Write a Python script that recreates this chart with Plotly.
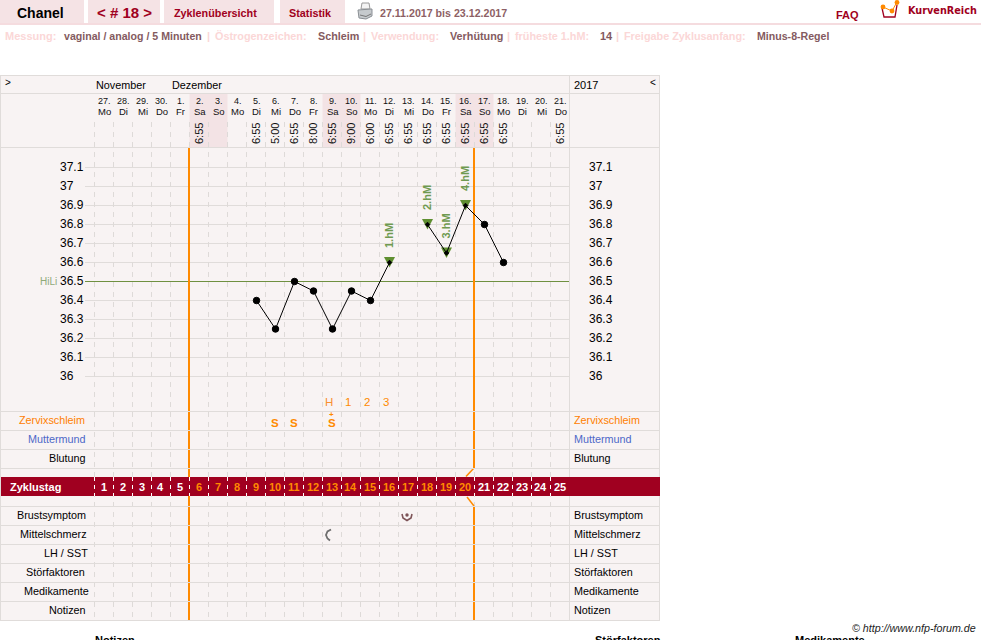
import plotly.graph_objects as go

# ---------- data ----------
cycle_days = list(range(1, 26))
date_labels = ["27.", "28.", "29.", "30.", "1.", "2.", "3.", "4.", "5.", "6.", "7.", "8.", "9.", "10.", "11.", "12.", "13.", "14.", "15.", "16.", "17.", "18.", "19.", "20.", "21."]
weekday_labels = ["Mo", "Di", "Mi", "Do", "Fr", "Sa", "So", "Mo", "Di", "Mi", "Do", "Fr", "Sa", "So", "Mo", "Di", "Mi", "Do", "Fr", "Sa", "So", "Mo", "Di", "Mi", "Do"]
time_labels = [None, None, None, None, None, "6:55", None, None, "6:55", "5:00", "6:55", "8:00", "6:55", "9:00", "6:00", "6:55", "6:55", "6:55", "6:55", "6:55", "6:55", "6:55", None, None, "6:55"]
temperatures = [None, None, None, None, None, None, None, None, 36.4, 36.25, 36.5, 36.45, 36.25, 36.45, 36.4, 36.6, None, 36.8, 36.65, 36.9, 36.8, 36.6, None, None, None]
high_days = [16, 18, 19, 20]
high_labels = ["1.hM", "2.hM", "3.hM", "4.hM"]
temp_ticks = [37.1, 37.0, 36.9, 36.8, 36.7, 36.6, 36.5, 36.4, 36.3, 36.2, 36.1, 36.0]
temp_tick_labels = ["37.1", "37", "36.9", "36.8", "36.7", "36.6", "36.5", "36.4", "36.3", "36.2", "36.1", "36"]
cover_line = 36.5
weekend_groups = [(6, 7), (13, 14), (20, 21)]
count_days = [13, 14, 15, 16]
count_labels = ["H", "1", "2", "3"]
mucus_days = [10, 11, 13]
mucus_labels = ["S", "S", "S"]
fertile_days = list(range(6, 21))
row_names = ["Zervixschleim", "Muttermund", "Blutung", "Brustsymptom", "Mittelschmerz", "LH / SST", "Störfaktoren", "Medikamente", "Notizen"]

# ---------- page geometry ----------
W, H = 981, 640
RED = "#a00020"
ORANGE = "#ff8a00"
PANEL = "#f8f3f3"
GRID = "#e0dcda"
DASH = "#dedad8"
F = "Liberation Sans"


def xp(p):
    return p / W


def yp(p):
    return 1 - p / H


def col_edge(k):
    return 94.5 + 19 * k


shapes = []
annotations = []


def rect(x0, y0, x1, y1, color):
    shapes.append(dict(type="rect", xref="paper", yref="paper", x0=xp(x0), x1=xp(x1), y0=yp(y0), y1=yp(y1),
                       fillcolor=color, line=dict(width=0), layer="below"))


def line(x0, y0, x1, y1, color, width=1, dash=None):
    l = dict(color=color, width=width)
    if dash:
        l["dash"] = dash
    shapes.append(dict(type="line", xref="paper", yref="paper", x0=xp(x0), x1=xp(x1), y0=yp(y0), y1=yp(y1),
                       line=l, layer="below"))


def path(points, color=None, fill=None, width=1, close=False):
    d = "M " + " L ".join(f"{xp(a):.5f},{yp(b):.5f}" for a, b in points) + (" Z" if close else "")
    shapes.append(dict(type="path", xref="paper", yref="paper", path=d,
                       line=dict(color=color or "rgba(0,0,0,0)", width=width if color else 0),
                       fillcolor=fill or "rgba(0,0,0,0)", layer="below"))


def dot(cx, cy, r, color):
    shapes.append(dict(type="circle", xref="paper", yref="paper", x0=xp(cx - r), x1=xp(cx + r), y0=yp(cy - r), y1=yp(cy + r),
                       fillcolor=color, line=dict(width=0), layer="below"))


def text(s, x, y, size=11, color="#000", bold=False, anchor="left", family=F, italic=False, angle=0):
    t = f"<b>{s}</b>" if bold else s
    if italic:
        t = f"<i>{t}</i>"
    annotations.append(dict(text=t, xref="paper", yref="paper", x=xp(x), y=yp(y), xanchor=anchor, yanchor="middle",
                            showarrow=False, borderpad=0, borderwidth=0, textangle=angle,
                            font=dict(family=family, size=size, color=color)))


def col_text(s, day, y, size=11, color="#000", bold=False, angle=0, family=F, xshift=0):
    t = f"<b>{s}</b>" if bold else s
    annotations.append(dict(text=t, xref="x", yref="paper", x=day, y=yp(y), xanchor="center", yanchor="middle",
                            showarrow=False, borderpad=0, borderwidth=0, textangle=angle, xshift=xshift,
                            font=dict(family=family, size=size, color=color)))


# ---------- top navigation ----------
rect(0, 0, 84, 23, "#f5e3e5")
rect(88, 0, 160, 23, "#f5e3e5")
rect(164, 0, 274, 23, "#f5e3e5")
rect(280, 0, 345, 23, "#f5e3e5")
rect(0, 23, 981, 25, "#f5dcdf")
text("Chanel", 40, 12.5, 14, "#000", True, "center")
text("&lt; # 18 &gt;", 125, 12.5, 15, RED, True, "center")
text("Zyklenübersicht", 215, 12.5, 10.8, RED, True, "center")
text("Statistik", 310.5, 12.5, 10.8, RED, True, "center")
text("27.11.2017 bis 23.12.2017", 380, 12.5, 10.65, "#8d5f65", True)
text("FAQ", 836, 14.5, 11, RED, True)
text("KurvenReich", 908, 10.5, 9.7, RED, True, family="DejaVu Sans")

# printer icon
path([(362, 3), (369, 3), (370, 9), (361, 9)], "#9a9a9a", "#f4f4f4", 1, True)
path([(358, 10), (372, 9), (372, 16), (366, 19), (359, 18)], "#8a8f94", "#c6cacd", 1, True)
path([(360, 15), (366, 16.5), (371, 14)], "#777", None, 1)

# logo
path([(882, 8), (884, 17), (895, 17), (897, 5)], RED, None, 1.3)
path([(883, 7), (892, 11), (897, 2)], ORANGE, None, 1)
dot(883, 7, 2.4, ORANGE)
dot(892, 11, 2.4, ORANGE)
dot(897, 2.5, 2.4, ORANGE)

# info line
LBL, VAL = "#fbd7d7", "#845a60"
info = [("Messung:", 5, LBL, 11), ("vaginal / analog / 5 Minuten", 64, VAL, 10.6), ("|", 207, LBL, 11),
        ("Östrogenzeichen:", 215, LBL, 10.85), ("Schleim", 318, VAL, 10.8), ("|", 363, LBL, 11),
        ("Verwendung:", 371, LBL, 10.85), ("Verhütung", 450, VAL, 10.8), ("|", 507, LBL, 11),
        ("früheste 1.hM:", 515, LBL, 10.85), ("14", 600, VAL, 11), ("|", 616, LBL, 11),
        ("Freigabe Zyklusanfang:", 624, LBL, 10.85), ("Minus-8-Regel", 757, VAL, 10.6)]
for s, x, c, z in info:
    text(s, x, 36, z, c, True)

# ---------- panel ----------
rect(0, 75, 660, 621, PANEL)

# weekend shading in header
for a, b in weekend_groups:
    rect(col_edge(a - 1), 94, col_edge(b), 148, "#f3e3e5")

# temperature grid
for t in temp_ticks:
    c = "#6f9040" if t == cover_line else GRID
    shapes.append(dict(type="line", xref="paper", yref="y", x0=xp(85), x1=xp(570), y0=t, y1=t,
                       line=dict(color=c, width=1), layer="below"))

# vertical dashed day lines
for k in range(0, 25):
    line(col_edge(k), 122, col_edge(k), 621, DASH, 1, "5px,5px")

# cycle boundaries
line(189, 148, 189, 621, ORANGE, 2)
line(474, 148, 474, 468, ORANGE, 2)
line(474, 468, 466, 476.5, ORANGE, 1.5)
line(467, 497, 474, 506, ORANGE, 1.5)
line(474, 506, 474, 621, ORANGE, 2)

# horizontal structure
for y in [75.5, 93.5, 147.5, 411.5, 430.5, 449.5, 468.5, 506.5, 525.5, 544.5, 563.5, 582.5, 601.5, 620.5]:
    line(0, y, 660, y, GRID, 1)
line(0.5, 75, 0.5, 621, GRID, 1)
line(569.5, 75, 569.5, 621, GRID, 1)
line(659.5, 75, 659.5, 621, GRID, 1)

# cycle day band
rect(1, 477, 660, 496, RED)
for k in range(0, 25):
    line(col_edge(k), 477, col_edge(k), 496, "#ffffff", 1, "4px,4px")
text("Zyklustag", 10, 487, 11, "#fff", True)
for d in cycle_days:
    col_text(str(d), d, 487, 11, ORANGE if d in fertile_days else "#fff", True, xshift=-0.7)

# month row
text("&gt;", 5, 83, 10)
text("November", 96, 85.5, 10.8)
text("Dezember", 172, 85.5, 10.8)
text("2017", 574, 85.5, 11)
text("&lt;", 650, 83, 10)

# header columns
for d, a, b, c in zip(cycle_days, date_labels, weekday_labels, time_labels):
    col_text(a, d, 101, 9, "#111")
    col_text(b, d, 111, 9.5, "#111")
    if c:
        col_text(c, d, 134, 11, "#111", angle=-90, xshift=-0.5)

# temperature tick labels
for t, s in zip(temp_ticks, temp_tick_labels):
    for x in (60, 589):
        annotations.append(dict(text=s, xref="paper", yref="y", x=xp(x), y=t, yshift=1, xanchor="left", yanchor="middle",
                                showarrow=False, borderpad=0, borderwidth=0, font=dict(family=F, size=12, color="#000")))
annotations.append(dict(text="HiLi", xref="paper", yref="y", x=xp(40), y=cover_line, xanchor="left", yanchor="middle",
                        showarrow=False, borderpad=0, borderwidth=0, font=dict(family=F, size=10, color="#8faa78")))

# high measurement labels and their triangles
temp_by_day = dict(zip(cycle_days, temperatures))
for d, s in zip(high_days, high_labels):
    annotations.append(dict(text=f"<b>{s}</b>", xref="x", yref="y", x=d, y=temp_by_day[d], yshift=27, xshift=-1,
                            xanchor="center", yanchor="middle", showarrow=False, borderpad=0, borderwidth=0,
                            textangle=-90, font=dict(family=F, size=11, color="#6f9a50")))
    shapes.append(dict(type="path", xref="x", yref="y", xsizemode="pixel", ysizemode="pixel",
                       xanchor=d, yanchor=temp_by_day[d], path="M -5.5 5.5 L 5.5 5.5 L 0 -5 Z",
                       fillcolor="#5f8f30", line=dict(width=0), layer="below"))

# count row and mucus row
for d, s in zip(count_days, count_labels):
    col_text(s, d, 402, 11.5, "#f99030" if s == "H" else ORANGE, False, xshift=-3.5)
for d, s in zip(mucus_days, mucus_labels):
    col_text(s, d, 423, 11.5, ORANGE, True, xshift=-1)
col_text("+", 13, 414, 8, ORANGE, True, xshift=-1)

# row labels
row_y = [420, 439, 458, 515, 534, 553, 572, 591, 610]
row_right = [85, 86, 86, 86, 87, 88, 85, 89, 86]
row_colors = ["#ff8000", "#4d68c8", "#000", "#000", "#000", "#000", "#000", "#000", "#000"]
for s, y, r, c in zip(row_names, row_y, row_right, row_colors):
    text(s, r, y, 10.8, c, False, "right")
    text(s, 574, y, 10.8, c)

# icons: breast symptom and mittelschmerz
path([(402, 514), (403, 518), (407, 520.5), (411, 518), (412, 514)], "#7d5357", None, 1.6)
dot(407, 515, 1.7, "#7d5357")
path([(331, 529.5), (327.5, 531.5), (326, 535), (327.5, 538.5), (330, 540.5)], "#6e6e6e", None, 1.8)

# footer
text("© http://www.nfp-forum.de", 976, 628, 10.7, "#222", False, "right", italic=True)
text("Notizen", 95, 640, 11, "#000", True)
text("Störfaktoren", 595, 640, 11, "#000", True)
text("Medikamente", 795, 640, 11, "#000", True)

# ---------- traces ----------
fig = go.Figure()
sizes = [3.5 if d in high_days else 6.5 for d in cycle_days]
symbols = ["diamond" if d in high_days else "circle" for d in cycle_days]
fig.add_trace(go.Scatter(x=cycle_days, y=temperatures, mode="lines+markers", connectgaps=False,
                         line=dict(color="#000", width=1),
                         marker=dict(symbol=symbols, size=sizes, color="#000", opacity=1,
                                     line=dict(width=1, color="#000")),
                         hoverinfo="skip", showlegend=False))

# data scale: day d sits at 95 + 19 * (d - 0.5) px, 37.1 deg at 167.5 px, 190 px per degree
fig.update_layout(
    width=W, height=H, margin=dict(l=0, r=0, t=0, b=0), autosize=False,
    paper_bgcolor="#fff", plot_bgcolor="rgba(0,0,0,0)", showlegend=False, hovermode=False,
    xaxis=dict(visible=False, range=[(0 - 95) / 19 + 0.5, (W - 95) / 19 + 0.5], fixedrange=True),
    yaxis=dict(visible=False, range=[37.1 - (H - 167.5) / 190, 37.1 + 167.5 / 190], fixedrange=True),
    shapes=shapes, annotations=annotations,
)
fig.write_html("out.html", config=dict(displayModeBar=False, responsive=False),
               post_script="document.body.style.margin='0';document.documentElement.style.overflow='hidden';")
